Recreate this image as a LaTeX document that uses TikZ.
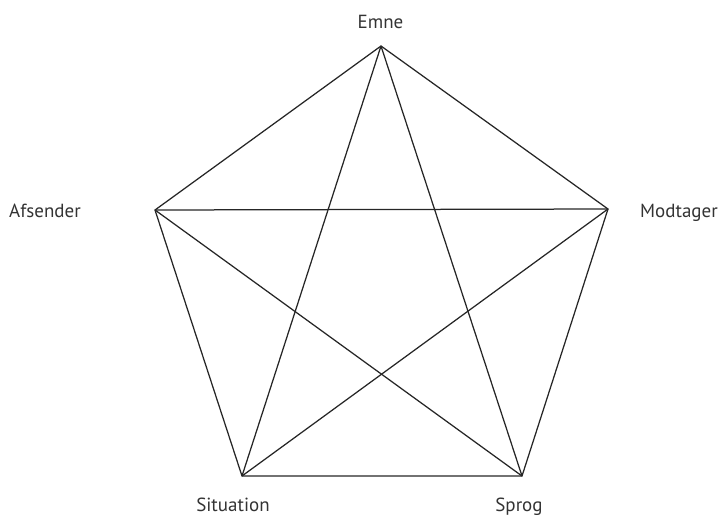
\documentclass[tikz,border=0pt]{standalone}
\usepackage{fontspec}
\setmainfont{PT Sans}
\begin{document}
\begin{tikzpicture}[x=1pt,y=-1pt,
  lbl/.style={anchor=base,inner sep=0pt,font=\fontsize{19}{22}\selectfont,text=black!80},
  edge/.style={line width=1.25pt,black!85,line join=miter}]
\useasboundingbox (0,0) rectangle (724,515);
\coordinate (E) at (381,46);
\coordinate (A) at (155,210);
\coordinate (M) at (608,209);
\coordinate (S) at (242,476);
\coordinate (P) at (522,476);
\node[lbl] (tE) at (380.5,28) {Emne};
\node[lbl] (tA) at (45,217) {Afsender};
\node[lbl] (tM) at (679,217) {Modtager};
\node[lbl] (tS) at (233,511) {Situation};
\node[lbl] (tP) at (519,511) {Sprog};
\draw[edge] (E) -- (M) -- (P) -- (S) -- (A) -- cycle;
\draw[edge] (E) -- (S);
\draw[edge] (E) -- (P);
\draw[edge] (A) -- (M);
\draw[edge] (A) -- (P);
\draw[edge] (M) -- (S);
\end{tikzpicture}
\end{document}
